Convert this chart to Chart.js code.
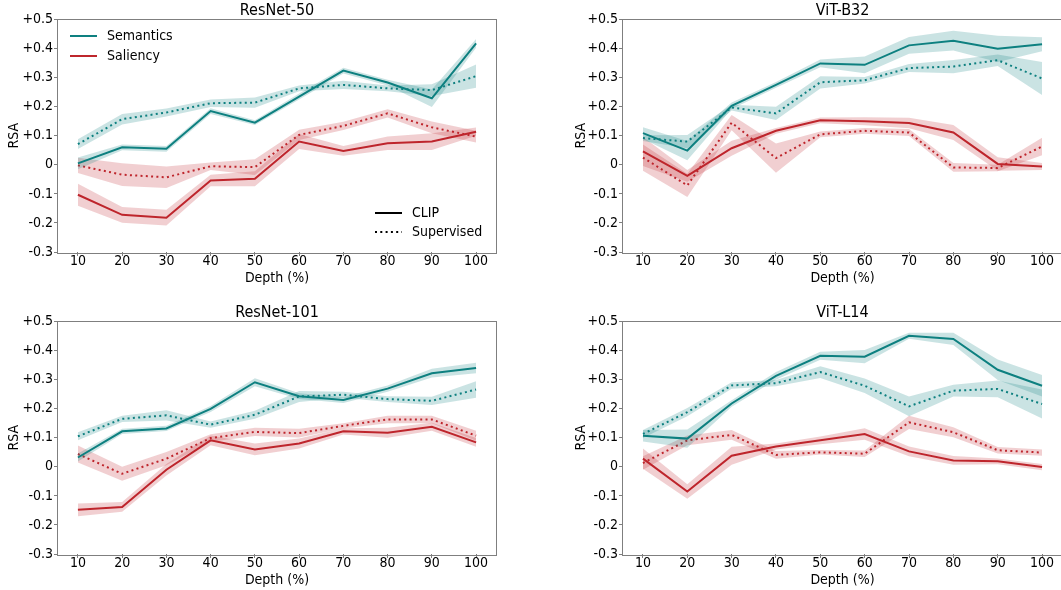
<!DOCTYPE html>
<html>
<head>
<meta charset="utf-8">
<script src="https://cdn.jsdelivr.net/npm/chart.js@4.4.1/dist/chart.umd.min.js"></script>
<style>
  html, body { margin: 0; padding: 0; background: #fff; width: 1061px; height: 590px; overflow: hidden; position: relative; }
  canvas { position: absolute; }
</style>
</head>
<body>
<canvas id="pResNet50" width="560" height="288" style="left:0;top:0"></canvas>
<canvas id="pViTB32" width="502" height="288" style="left:560px;top:0"></canvas>
<canvas id="pResNet101" width="560" height="288" style="left:0;top:302px"></canvas>
<canvas id="pViTL14" width="502" height="288" style="left:560px;top:302px"></canvas>
<script>
// Layer depth (% of network) and RSA axis ticks
const depth = [10, 20, 30, 40, 50, 60, 70, 80, 90, 100];
const rsaTicks = [-0.3, -0.2, -0.1, 0, 0.1, 0.2, 0.3, 0.4, 0.5];

// ResNet-50: mean RSA and spread per depth
const r50SemClip    = [0.005, 0.060, 0.055, 0.185, 0.145, 0.235, 0.324, 0.283, 0.229, 0.418];
const r50SemClipSd  = [0.020, 0.010, 0.010, 0.010, 0.008, 0.010, 0.010, 0.010, 0.030, 0.015];
const r50SemSup     = [0.071, 0.157, 0.180, 0.212, 0.214, 0.263, 0.275, 0.263, 0.257, 0.305];
const r50SemSupSd   = [0.017, 0.018, 0.014, 0.013, 0.018, 0.010, 0.014, 0.010, 0.020, 0.040];
const r50SalClip    = [-0.103, -0.172, -0.182, -0.054, -0.048, 0.080, 0.048, 0.074, 0.080, 0.114];
const r50SalClipSd  = [0.038, 0.027, 0.027, 0.020, 0.026, 0.026, 0.017, 0.023, 0.029, 0.014];
const r50SalSup     = [-0.002, -0.034, -0.043, -0.005, -0.008, 0.103, 0.134, 0.177, 0.129, 0.097];
const r50SalSupSd   = [0.026, 0.039, 0.037, 0.013, 0.027, 0.018, 0.014, 0.014, 0.020, 0.020];

// ViT-B32
const b32SemClip    = [0.109, 0.049, 0.203, 0.275, 0.349, 0.344, 0.411, 0.427, 0.399, 0.415];
const b32SemClipSd  = [0.020, 0.033, 0.011, 0.010, 0.013, 0.029, 0.029, 0.034, 0.045, 0.024];
const b32SemSup     = [0.092, 0.080, 0.197, 0.177, 0.284, 0.291, 0.333, 0.338, 0.360, 0.297];
const b32SemSupSd   = [0.010, 0.023, 0.010, 0.023, 0.021, 0.011, 0.014, 0.023, 0.020, 0.057];
const b32SalClip    = [0.046, -0.038, 0.057, 0.117, 0.153, 0.150, 0.144, 0.111, 0.003, -0.006];
const b32SalClipSd  = [0.050, 0.020, 0.026, 0.010, 0.010, 0.014, 0.018, 0.026, 0.023, 0.012];
const b32SalSup     = [0.025, -0.071, 0.145, 0.023, 0.105, 0.117, 0.111, -0.009, -0.011, 0.063];
const b32SalSupSd   = [0.045, 0.040, 0.026, 0.050, 0.010, 0.010, 0.012, 0.015, 0.011, 0.030];

// ResNet-101
const r101SemClip   = [0.032, 0.122, 0.132, 0.199, 0.291, 0.243, 0.230, 0.269, 0.322, 0.340];
const r101SemClipSd = [0.014, 0.009, 0.009, 0.010, 0.014, 0.010, 0.010, 0.011, 0.015, 0.018];
const r101SemSup    = [0.105, 0.165, 0.177, 0.145, 0.179, 0.242, 0.248, 0.233, 0.227, 0.266];
const r101SemSupSd  = [0.014, 0.011, 0.018, 0.011, 0.014, 0.019, 0.010, 0.010, 0.014, 0.028];
const r101SalClip   = [-0.148, -0.138, -0.010, 0.091, 0.060, 0.080, 0.122, 0.117, 0.138, 0.084];
const r101SalClipSd = [0.022, 0.017, 0.020, 0.017, 0.020, 0.017, 0.011, 0.017, 0.014, 0.015];
const r101SalSup    = [0.044, -0.024, 0.028, 0.099, 0.120, 0.116, 0.141, 0.163, 0.163, 0.107];
const r101SalSupSd  = [0.029, 0.024, 0.023, 0.013, 0.014, 0.015, 0.009, 0.013, 0.013, 0.017];

// ViT-L14
const l14SemClip    = [0.107, 0.097, 0.218, 0.313, 0.382, 0.379, 0.451, 0.440, 0.334, 0.279];
const l14SemClipSd  = [0.020, 0.031, 0.011, 0.013, 0.014, 0.023, 0.010, 0.021, 0.035, 0.037];
const l14SemSup     = [0.113, 0.188, 0.280, 0.288, 0.326, 0.279, 0.208, 0.262, 0.268, 0.216];
const l14SemSupSd   = [0.014, 0.014, 0.011, 0.011, 0.020, 0.025, 0.034, 0.020, 0.029, 0.050];
const l14SalClip    = [0.028, -0.085, 0.038, 0.070, 0.091, 0.113, 0.053, 0.022, 0.019, -0.001];
const l14SalClipSd  = [0.035, 0.025, 0.031, 0.010, 0.013, 0.020, 0.017, 0.015, 0.010, 0.011];
const l14SalSup     = [0.013, 0.091, 0.110, 0.041, 0.050, 0.045, 0.153, 0.119, 0.057, 0.049];
const l14SalSupSd   = [0.023, 0.017, 0.017, 0.013, 0.008, 0.011, 0.023, 0.017, 0.011, 0.011];

const TEAL = 'rgb(14,128,128)';
const TEAL_FILL = 'rgba(14,128,128,0.22)';
const RED = 'rgb(190,38,44)';
const RED_FILL = 'rgba(190,38,44,0.22)';
const FRAME = '#7f7f7f';
const FONT = '"DejaVu Sans Condensed", "DejaVu Sans", sans-serif';
const DOTTED = [2, 3.3];

Chart.defaults.font.family = FONT;
Chart.defaults.color = '#000';

function pts(values) {
  return depth.map((d, i) => ({ x: d, y: values[i] }));
}

// One mean line plus its shaded band (upper edge, lower edge filled to upper)
function bandSeries(mean, sd, color, fill, dash, startIndex) {
  const upper = mean.map((m, i) => m + sd[i]);
  const lower = mean.map((m, i) => m - sd[i]);
  return [
    { data: pts(upper), borderColor: 'transparent', borderWidth: 0, pointRadius: 0, fill: false },
    { data: pts(lower), borderColor: 'transparent', borderWidth: 0, pointRadius: 0,
      fill: { target: startIndex }, backgroundColor: fill },
    { data: pts(mean), borderColor: color, borderWidth: 2, borderDash: dash,
      pointRadius: 0, fill: false, tension: 0 }
  ];
}

// Frame, panel title and (optionally) the legends
function panelDecor(title, withLegend) {
  return {
    id: 'panelDecor',
    afterDatasetsDraw(chart) {
      const { ctx, chartArea: a } = chart;
      ctx.save();
      ctx.strokeStyle = FRAME;
      ctx.lineWidth = 1;
      ctx.strokeRect(Math.round(a.left) - 0.5, Math.round(a.top) - 0.5,
                     Math.round(a.right - a.left) + 1, Math.round(a.bottom - a.top) + 1);
      ctx.fillStyle = '#000';
      ctx.font = '16px ' + FONT;
      ctx.textAlign = 'center';
      ctx.textBaseline = 'middle';
      ctx.fillText(title, (a.left + a.right) / 2, 11);

      if (withLegend) {
        ctx.font = '14px ' + FONT;
        ctx.textAlign = 'left';
        ctx.lineWidth = 2;
        const colorItems = [['Semantics', TEAL, 36], ['Saliency', RED, 56]];
        colorItems.forEach(([label, col, y]) => {
          ctx.strokeStyle = col;
          ctx.setLineDash([]);
          ctx.beginPath(); ctx.moveTo(70, y); ctx.lineTo(97, y); ctx.stroke();
          ctx.fillText(label, 107, y);
        });
        const styleItems = [['CLIP', [], 213], ['Supervised', DOTTED, 232]];
        styleItems.forEach(([label, dash, y]) => {
          ctx.strokeStyle = '#000';
          ctx.setLineDash(dash);
          ctx.beginPath(); ctx.moveTo(375, y); ctx.lineTo(402, y); ctx.stroke();
          ctx.fillText(label, 412, y);
        });
      }
      ctx.restore();
    }
  };
}

function fmtRsa(v) {
  const r = Math.round(v * 10) / 10;
  if (r === 0) return '0';
  return (r > 0 ? '+' : '') + r.toFixed(1);
}

function makePanel(canvasId, title, semClip, semClipSd, semSup, semSupSd,
                   salClip, salClipSd, salSup, salSupSd, rightColumn, withLegend) {
  const datasets = [
    ...bandSeries(semClip, semClipSd, TEAL, TEAL_FILL, [], 0),
    ...bandSeries(semSup, semSupSd, TEAL, TEAL_FILL, DOTTED, 3),
    ...bandSeries(salClip, salClipSd, RED, RED_FILL, [], 6),
    ...bandSeries(salSup, salSupSd, RED, RED_FILL, DOTTED, 9)
  ];
  const yWidth = rightColumn ? 63 : 58;
  new Chart(document.getElementById(canvasId), {
    type: 'line',
    data: { datasets },
    options: {
      responsive: false,
      animation: false,
      events: [],
      layout: { padding: { top: 19.5, left: 0, right: rightColumn ? 0 : 64, bottom: 0 } },
      plugins: { legend: { display: false }, tooltip: { enabled: false }, title: { display: false } },
      scales: {
        x: {
          type: 'linear',
          min: 5.5,
          max: 104.5,
          afterBuildTicks: s => { s.ticks = depth.map(v => ({ value: v })); },
          afterFit: s => { s.height = 36; },
          ticks: { font: { size: 14, lineHeight: 1 }, padding: -1.5, maxRotation: 0, autoSkip: false,
                   callback: v => String(v) },
          grid: { display: true, drawOnChartArea: false, drawTicks: true, tickLength: 4,
                  tickColor: FRAME, tickWidth: 1 },
          border: { display: false },
          title: { display: true, text: 'Depth (%)', font: { size: 14 }, padding: { top: 0, bottom: 1.6 } }
        },
        y: {
          type: 'linear',
          min: -0.3,
          max: 0.5,
          afterBuildTicks: s => { s.ticks = rsaTicks.map(v => ({ value: v })); },
          afterFit: s => { s.width = yWidth; },
          ticks: { font: { size: 14 }, padding: 1, autoSkip: false, callback: v => fmtRsa(v) },
          grid: { display: true, drawOnChartArea: false, drawTicks: true, tickLength: 4,
                  tickColor: FRAME, tickWidth: 1 },
          border: { display: false },
          title: { display: true, text: 'RSA', font: { size: 14 },
                   padding: { top: rightColumn ? 12.5 : 6.2, bottom: 0 } }
        }
      }
    },
    plugins: [panelDecor(title, withLegend)]
  });
}

makePanel('pResNet50', 'ResNet-50', r50SemClip, r50SemClipSd, r50SemSup, r50SemSupSd,
          r50SalClip, r50SalClipSd, r50SalSup, r50SalSupSd, false, true);
makePanel('pViTB32', 'ViT-B32', b32SemClip, b32SemClipSd, b32SemSup, b32SemSupSd,
          b32SalClip, b32SalClipSd, b32SalSup, b32SalSupSd, true, false);
makePanel('pResNet101', 'ResNet-101', r101SemClip, r101SemClipSd, r101SemSup, r101SemSupSd,
          r101SalClip, r101SalClipSd, r101SalSup, r101SalSupSd, false, false);
makePanel('pViTL14', 'ViT-L14', l14SemClip, l14SemClipSd, l14SemSup, l14SemSupSd,
          l14SalClip, l14SalClipSd, l14SalSup, l14SalSupSd, true, false);
</script>
</body>
</html>
